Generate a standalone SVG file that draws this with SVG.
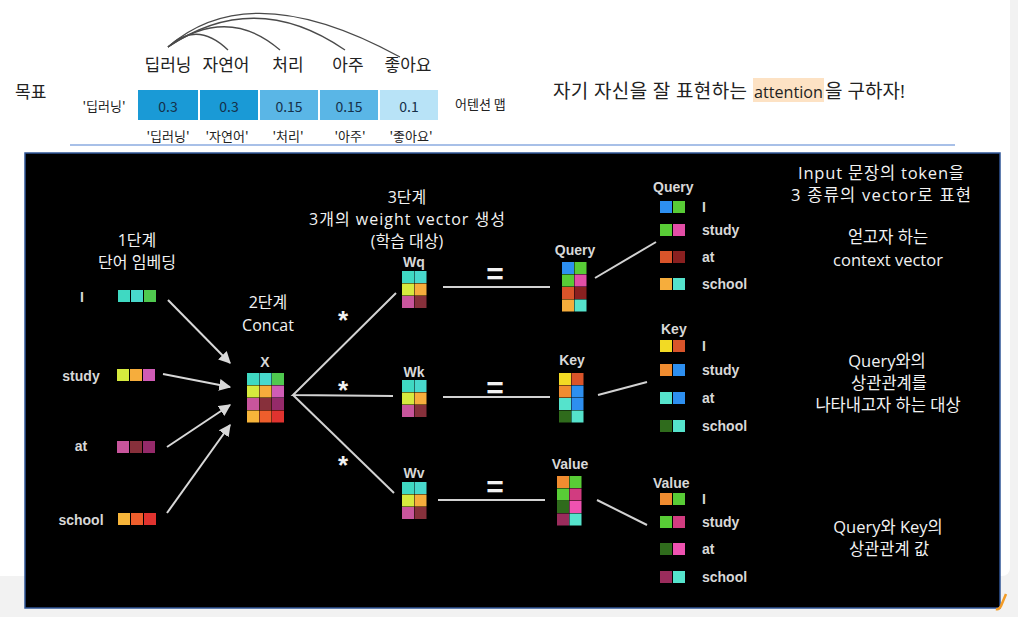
<svg xmlns="http://www.w3.org/2000/svg" width="1018" height="617" viewBox="0 0 1018 617">
<style>
text{dominant-baseline:central}
.kr{font-family:"Noto Sans CJK KR","Noto Sans",sans-serif}
.ok{font-family:"Open Sans","Noto Sans CJK KR",sans-serif}
.dk{fill:#222}
.wt{fill:#f2f2f2}
.lb{font-family:"Liberation Sans",Arial,sans-serif;font-weight:bold;fill:#d8d8d8;font-size:14px}
.mid{text-anchor:middle}
.arc{fill:none;stroke:#4a4a4a;stroke-width:1.3}
.ln{stroke:#d2d2d2;stroke-width:2;fill:none}
.arr{stroke:#d8d8d8;stroke-width:2;fill:none;marker-end:url(#ah)}
.c rect{width:12px;height:12px}
.teal{fill:#3fd9c2}.teal2{fill:#48d8cc}.green{fill:#4fc94f}.yg{fill:#d6ea3e}.org{fill:#f6ad3c}.pink{fill:#d05cb6}
.pink2{fill:#c8559c}.dred{fill:#87303b}.purp{fill:#952a6a}.orgY{fill:#f7b53a}.orgR{fill:#ee5e2c}.red{fill:#e0332f}
.blue{fill:#2d8ff0}.grn2{fill:#58cc36}.hpink{fill:#e24ea6}.rorg{fill:#d9542a}.maroon{fill:#8a2020}.teal3{fill:#55e3cc}
.yel{fill:#f2da24}.org2{fill:#f08c30}.dgrn{fill:#2f6b1c}.pinkred{fill:#d13c80}.mpink{fill:#ee52b0}.wine{fill:#9a2c5c}
</style>
<defs>
<marker id="ah" viewBox="0 0 10 10" refX="9" refY="5" markerWidth="6" markerHeight="6" orient="auto" markerUnits="strokeWidth">
<path d="M0,0 L10,5 L0,10 z" fill="#d8d8d8"/>
</marker>
</defs>
<rect x="0" y="0" width="1018" height="617" fill="#f2f2f2"/>
<rect x="-10" y="-10" width="1020" height="586" rx="8" fill="#ffffff"/>

<g id="top-goal">
<text class="kr dk" x="15" y="90" font-size="17">목표</text>
<line x1="70" y1="145" x2="955" y2="145" stroke="#a8c0e8" stroke-width="2"/>
</g>

<g id="top-words" class="kr dk" font-size="17">
<text class="mid" x="168" y="63">딥러닝</text>
<text class="mid" x="226" y="63">자연어</text>
<text class="mid" x="288" y="63">처리</text>
<text class="mid" x="348" y="63">아주</text>
<text class="mid" x="408" y="63">좋아요</text>
</g>

<g id="top-arcs">
<path class="arc" d="M168,47 Q197,20 228,50"/>
<path class="arc" d="M168,47 Q228,5 280,50"/>
<path class="arc" d="M168,47 Q255,-12 345,50"/>
<path class="arc" d="M168,47 Q250,-25 400,57"/>
</g>

<g id="attention-map">
<text class="kr dk mid" x="104" y="105" font-size="13">'딥러닝'</text>
<rect x="138" y="90" width="60" height="30" fill="#1a9ad6"/>
<rect x="200" y="90" width="58" height="30" fill="#1a9ad6"/>
<rect x="260" y="90" width="58" height="30" fill="#5ab6e6"/>
<rect x="320" y="90" width="58" height="30" fill="#5ab6e6"/>
<rect x="380" y="90" width="58" height="30" fill="#b8e3f7"/>
<g class="kr mid" font-size="14" fill="#15304a">
<text x="168" y="106">0.3</text>
<text x="229" y="106">0.3</text>
<text x="289" y="106">0.15</text>
<text x="349" y="106">0.15</text>
<text x="409" y="106">0.1</text>
</g>
<g class="kr dk mid" font-size="13">
<text x="168" y="135">'딥러닝'</text>
<text x="227" y="135">'자연어'</text>
<text x="288" y="135">'처리'</text>
<text x="350" y="135">'아주'</text>
<text x="411" y="135">'좋아요'</text>
</g>
<text class="kr dk" x="455" y="103" font-size="13">어텐션 맵</text>
</g>

<g id="goal-sentence" class="ok dk" font-size="19">
<rect x="753" y="78" width="71" height="24" fill="#fde2c4"/>
<text x="553" y="91" textLength="194" lengthAdjust="spacing">자기 자신을 잘 표현하는</text>
<text x="754" y="91" textLength="69" lengthAdjust="spacingAndGlyphs" font-size="16.5">attention</text>
<text x="825" y="91" textLength="80" lengthAdjust="spacing">을 구하자!</text>
</g>

<rect id="panel" x="25" y="153" width="975" height="455" fill="#000" stroke="#2f5597" stroke-width="1.5"/>

<g id="step1-title" class="ok wt mid" font-size="16">
<text x="137" y="240">1단계</text>
<text x="137" y="262">단어 임베딩</text>
</g>

<g id="emb-I"><text class="lb mid" x="82" y="297">I</text>
<g class="c"><rect class="teal" x="118" y="290"/><rect class="teal2" x="131" y="290"/><rect class="green" x="144" y="290"/></g></g>
<g id="emb-study"><text class="lb mid" x="81" y="376">study</text>
<g class="c"><rect class="yg" x="117" y="369"/><rect class="org" x="130" y="369"/><rect class="pink" x="143" y="369"/></g></g>
<g id="emb-at"><text class="lb mid" x="81" y="446">at</text>
<g class="c"><rect class="pink2" x="117" y="441"/><rect class="dred" x="130" y="441"/><rect class="purp" x="143" y="441"/></g></g>
<g id="emb-school"><text class="lb mid" x="81" y="520">school</text>
<g class="c"><rect class="orgY" x="118" y="513"/><rect class="orgR" x="131" y="513"/><rect class="red" x="144" y="513"/></g></g>

<g id="step2-X">
<text class="ok wt mid" x="268" y="302" font-size="16">2단계</text>
<text class="ok wt mid" x="268" y="325" font-size="16">Concat</text>
<text class="lb mid" x="265" y="362">X</text>
<g class="c">
<rect class="teal" x="247" y="373"/><rect class="teal2" x="259.5" y="373"/><rect class="green" x="272" y="373"/>
<rect class="yg" x="247" y="385.5"/><rect class="org" x="259.5" y="385.5"/><rect class="pink" x="272" y="385.5"/>
<rect class="pink2" x="247" y="398"/><rect class="dred" x="259.5" y="398"/><rect class="purp" x="272" y="398"/>
<rect class="orgY" x="247" y="410.5"/><rect class="orgR" x="259.5" y="410.5"/><rect class="red" x="272" y="410.5"/>
</g>
</g>

<g id="step3-title" class="ok wt mid" font-size="16">
<text x="407" y="197">3단계</text>
<text x="407" y="219" textLength="196" lengthAdjust="spacing">3개의 weight vector 생성</text>
<text x="407" y="241">(학습 대상)</text>
</g>

<g id="Wq"><text class="lb mid" x="414" y="262">Wq</text>
<g class="c"><rect class="teal" x="402" y="271"/><rect class="teal2" x="414.5" y="271"/>
<rect class="yg" x="402" y="283.5"/><rect class="org" x="414.5" y="283.5"/>
<rect class="pink2" x="402" y="296"/><rect class="dred" x="414.5" y="296"/></g></g>
<g id="Wk"><text class="lb mid" x="414" y="372">Wk</text>
<g class="c"><rect class="teal" x="402" y="380"/><rect class="teal2" x="414.5" y="380"/>
<rect class="yg" x="402" y="392.5"/><rect class="org" x="414.5" y="392.5"/>
<rect class="pink2" x="402" y="405"/><rect class="dred" x="414.5" y="405"/></g></g>
<g id="Wv"><text class="lb mid" x="414" y="473">Wv</text>
<g class="c"><rect class="teal" x="402" y="482"/><rect class="teal2" x="414.5" y="482"/>
<rect class="yg" x="402" y="494.5"/><rect class="org" x="414.5" y="494.5"/>
<rect class="pink2" x="402" y="507"/><rect class="dred" x="414.5" y="507"/></g></g>

<g id="Query-mat"><text class="lb mid" x="575" y="250">Query</text>
<g class="c"><rect class="blue" x="562" y="262"/><rect class="grn2" x="574.5" y="262"/>
<rect class="grn2" x="562" y="274.5"/><rect class="hpink" x="574.5" y="274.5"/>
<rect class="rorg" x="562" y="287"/><rect class="maroon" x="574.5" y="287"/>
<rect class="org" x="562" y="299.5"/><rect class="teal3" x="574.5" y="299.5"/></g></g>
<g id="Key-mat"><text class="lb mid" x="572" y="360">Key</text>
<g class="c"><rect class="yel" x="559" y="373"/><rect class="rorg" x="571.5" y="373"/>
<rect class="org2" x="559" y="385.5"/><rect class="blue" x="571.5" y="385.5"/>
<rect class="teal3" x="559" y="398"/><rect class="blue" x="571.5" y="398"/>
<rect class="dgrn" x="559" y="410.5"/><rect class="teal3" x="571.5" y="410.5"/></g></g>
<g id="Value-mat"><text class="lb mid" x="570" y="464">Value</text>
<g class="c"><rect class="org2" x="557" y="476"/><rect class="grn2" x="569.5" y="476"/>
<rect class="grn2" x="557" y="488.5"/><rect class="pinkred" x="569.5" y="488.5"/>
<rect class="dgrn" x="557" y="501"/><rect class="mpink" x="569.5" y="501"/>
<rect class="wine" x="557" y="513.5"/><rect class="teal3" x="569.5" y="513.5"/></g></g>

<g id="Query-list">
<text class="lb" x="653" y="187">Query</text>
<g class="c"><rect class="blue" x="660" y="201"/><rect class="grn2" x="673" y="201"/></g><text class="lb" x="702" y="207">I</text>
<g class="c"><rect class="grn2" x="660" y="224"/><rect class="hpink" x="673" y="224"/></g><text class="lb" x="702" y="230">study</text>
<g class="c"><rect class="rorg" x="660" y="251"/><rect class="maroon" x="673" y="251"/></g><text class="lb" x="702" y="257">at</text>
<g class="c"><rect class="org" x="660" y="278"/><rect class="teal3" x="673" y="278"/></g><text class="lb" x="702" y="284">school</text>
</g>
<g id="Key-list">
<text class="lb" x="661" y="329">Key</text>
<g class="c"><rect class="yel" x="660" y="340"/><rect class="rorg" x="673" y="340"/></g><text class="lb" x="702" y="346">I</text>
<g class="c"><rect class="org2" x="660" y="364"/><rect class="blue" x="673" y="364"/></g><text class="lb" x="702" y="370">study</text>
<g class="c"><rect class="teal3" x="660" y="392"/><rect class="blue" x="673" y="392"/></g><text class="lb" x="702" y="398">at</text>
<g class="c"><rect class="dgrn" x="660" y="420"/><rect class="teal3" x="673" y="420"/></g><text class="lb" x="702" y="426">school</text>
</g>
<g id="Value-list">
<text class="lb" x="653" y="483">Value</text>
<g class="c"><rect class="org2" x="660" y="493"/><rect class="grn2" x="673" y="493"/></g><text class="lb" x="702" y="499">I</text>
<g class="c"><rect class="grn2" x="660" y="516"/><rect class="pinkred" x="673" y="516"/></g><text class="lb" x="702" y="522">study</text>
<g class="c"><rect class="dgrn" x="660" y="543"/><rect class="mpink" x="673" y="543"/></g><text class="lb" x="702" y="549">at</text>
<g class="c"><rect class="wine" x="660" y="571"/><rect class="teal3" x="673" y="571"/></g><text class="lb" x="702" y="577">school</text>
</g>

<g id="notes" class="ok wt mid" font-size="16.5">
<text x="881" y="172" textLength="166" lengthAdjust="spacing">Input 문장의 token을</text>
<text x="881" y="194" textLength="180" lengthAdjust="spacing">3 종류의 vector로 표현</text>
<text x="888" y="236">얻고자 하는</text>
<text x="888" y="259">context vector</text>
<text x="887" y="360">Query와의</text>
<text x="889" y="382">상관관계를</text>
<text x="888" y="404">나타내고자 하는 대상</text>
<text x="888" y="526">Query와 Key의</text>
<text x="889" y="548">상관관계 값</text>
</g>

<g id="connectors">
<line class="arr" x1="168" y1="300" x2="230" y2="363"/>
<line class="arr" x1="163" y1="374" x2="230" y2="387"/>
<line class="arr" x1="167" y1="447" x2="230" y2="405"/>
<line class="arr" x1="167" y1="513" x2="230" y2="425"/>
<polyline class="ln" points="396,293 293,395 393,396"/>
<line class="ln" x1="293" y1="395" x2="394" y2="493"/>
<line class="ln" x1="443" y1="287" x2="550" y2="287"/>
<line class="ln" x1="443" y1="397" x2="550" y2="397"/>
<line class="ln" x1="438" y1="500" x2="545" y2="500"/>
<line class="ln" x1="595" y1="278" x2="656" y2="242"/>
<line class="ln" x1="598" y1="395" x2="647" y2="382"/>
<line class="ln" x1="597" y1="500" x2="647" y2="525"/>
</g>

<g id="operators" font-family="Liberation Sans,Arial,sans-serif" font-weight="bold" fill="#f2f2f2" text-anchor="middle">
<text x="343" y="320" font-size="26">*</text>
<text x="343" y="390" font-size="26">*</text>
<text x="343" y="465" font-size="26">*</text>
<text x="495" y="273" font-size="30">=</text>
<text x="495" y="387" font-size="30">=</text>
<text x="495" y="486" font-size="30">=</text>
</g>

<path d="M1006,594 L1001,606 Q999,610 996,609" fill="none" stroke="#f39c27" stroke-width="2.5"/>
</svg>
